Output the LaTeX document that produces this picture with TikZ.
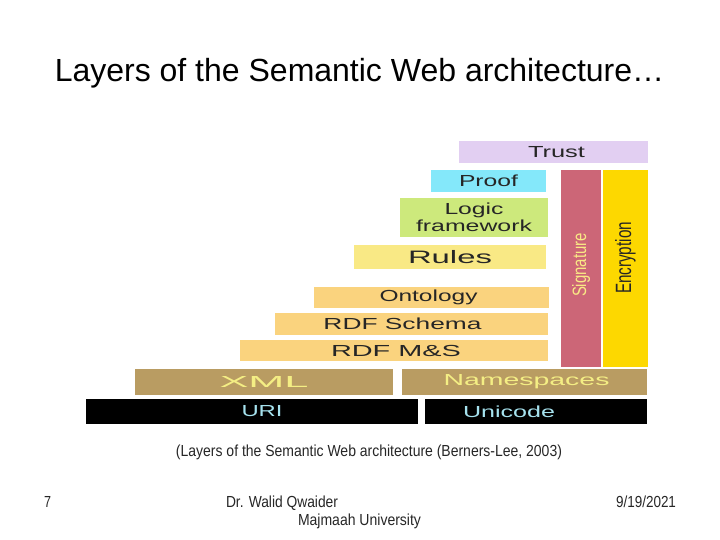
\documentclass[tikz,border=0pt]{standalone}
\usepackage{fontspec}
\setmainfont{Liberation Sans}
\usetikzlibrary{positioning}
\definecolor{TrustLilac}{HTML}{E2CFF2}
\definecolor{ProofCyan}{HTML}{84E8FA}
\definecolor{LogicGreen}{HTML}{CDE97C}
\definecolor{RulesYellow}{HTML}{F9E985}
\definecolor{RdfOrange}{HTML}{FAD37E}
\definecolor{SignRose}{HTML}{CC6677}
\definecolor{CryptGold}{HTML}{FDD800}
\definecolor{XmlTan}{HTML}{B99C62}
\definecolor{XmlText}{HTML}{F4EE84}
\definecolor{UriText}{HTML}{A6E2EE}
\newcommand{\fitw}[2]{\resizebox{#1}{\height}{#2}}

\begin{document}
\begin{tikzpicture}[
    x=1pt, y=1pt,
    layer/.style={fill=#1, inner sep=0pt, align=center, text=black!85,
                  font=\fontsize{16}{17}\selectfont},
    base/.style={fill=#1, inner sep=0pt, font=\fontsize{16}{17}\selectfont},
    slide/.style={anchor=base, inner sep=0pt, text=black!85}
]
  \useasboundingbox (0,0) rectangle (720,540);

  % -------------------------------------------------------------
  % TITLE
  % -------------------------------------------------------------
  \node[slide, text=black, font=\fontsize{32}{36}\selectfont] (title) at (359.5,458) {Layers of the Semantic Web architecture\dots};

  % -------------------------------------------------------------
  % UPPER LAYERS
  % -------------------------------------------------------------
  \node[layer=TrustLilac, minimum width=189pt, minimum height=22pt] (trust) at (553.5,388) {\hspace{6pt}\fitw{57pt}{Trust}};
  \node[layer=ProofCyan, minimum width=115pt, minimum height=22pt] (proof) at (488.5,359) {\fitw{59pt}{Proof}};
  \node[layer=LogicGreen, minimum width=148pt, minimum height=39pt] (logic) at (474,322.5) {\fitw{59pt}{Logic}\\\fitw{116pt}{framework}};
  \node[layer=RulesYellow, minimum width=192pt, minimum height=24pt, font=\fontsize{18}{20}\selectfont] (rules) at (450,283) {\fitw{84pt}{Rules}};

  % Signature / Encryption columns
  \node[fill=SignRose, minimum width=40pt, minimum height=197pt, inner sep=0pt] (sign) at (581,271.5) {};
  \node[rotate=90, inner sep=0pt, text=RulesYellow, font=\fontsize{15}{15}\selectfont] (signtxt) at (581,275) {\resizebox{64pt}{14pt}{Signature}};
  \node[fill=CryptGold, minimum width=45pt, minimum height=197pt, inner sep=0pt] (crypt) at (625.5,271.5) {};
  \node[rotate=90, inner sep=0pt, text=black!85, font=\fontsize{15}{15}\selectfont] (crypttxt) at (625.5,282) {\resizebox{72pt}{16pt}{Encryption}};

  % -------------------------------------------------------------
  % RDF LAYERS
  % -------------------------------------------------------------
  \node[layer=RdfOrange, minimum width=235pt, minimum height=21pt] (onto) at (431.5,242.5) {\fitw{98pt}{Ontology}\hspace{6pt}};
  \node[layer=RdfOrange, minimum width=273pt, minimum height=22pt] (schema) at (411.5,216) {};
  \node[layer=RdfOrange, inner sep=0pt] (schematxt) at ([xshift=-9pt]schema.center) {\fitw{158pt}{RDF Schema}};
  \node[layer=RdfOrange, minimum width=308pt, minimum height=21pt] (rdfms) at (394,189.5) {\hspace{4pt}\fitw{130pt}{RDF M\&S}};

  % -------------------------------------------------------------
  % XML / URI BASE
  % -------------------------------------------------------------
  \node[base=XmlTan, text=XmlText, minimum width=258pt, minimum height=26pt] (xml) at (264,158) {\fitw{89pt}{XML}\hspace{8pt}};
  \node[base=XmlTan, text=XmlText, minimum width=245pt, minimum height=26pt] (ns) at (524.5,158) {\hspace{4pt}\fitw{166pt}{Namespaces}};
  \node[base=black, minimum width=332pt, minimum height=25pt] (uri) at (252,128.5) {};
  \node[text=UriText, inner sep=0pt, font=\fontsize{16}{17}\selectfont] (uritxt) at ([xshift=10pt]uri.center) {\fitw{41pt}{URI}};
  \node[base=black, minimum width=222pt, minimum height=25pt] (uni) at (536,128.5) {};
  \node[text=UriText, inner sep=0pt, font=\fontsize{16}{17}\selectfont] (unitxt) at ([xshift=-27pt]uni.center) {\fitw{92pt}{Unicode}};

  % -------------------------------------------------------------
  % CAPTION AND FOOTER
  % -------------------------------------------------------------
  \node[slide, font=\fontsize{16}{18}\selectfont] (caption) at (369,83) {\fitw{386pt}{(Layers of the Semantic Web architecture (Berners-Lee, 2003)}};
  \node[slide, font=\fontsize{16}{18}\selectfont] (page) at (47.5,32) {\fitw{7pt}{7}};
  \node[slide, font=\fontsize{16}{18}\selectfont] (author) at (282,32) {\fitw{112pt}{Dr. Walid Qwaider}};
  \node[slide, font=\fontsize{16}{18}\selectfont] (univ) at (359.5,14) {\fitw{123pt}{Majmaah University}};
  \node[slide, font=\fontsize{16}{18}\selectfont] (date) at (646,32) {\fitw{60pt}{9/19/2021}};

\end{tikzpicture}
\end{document}
